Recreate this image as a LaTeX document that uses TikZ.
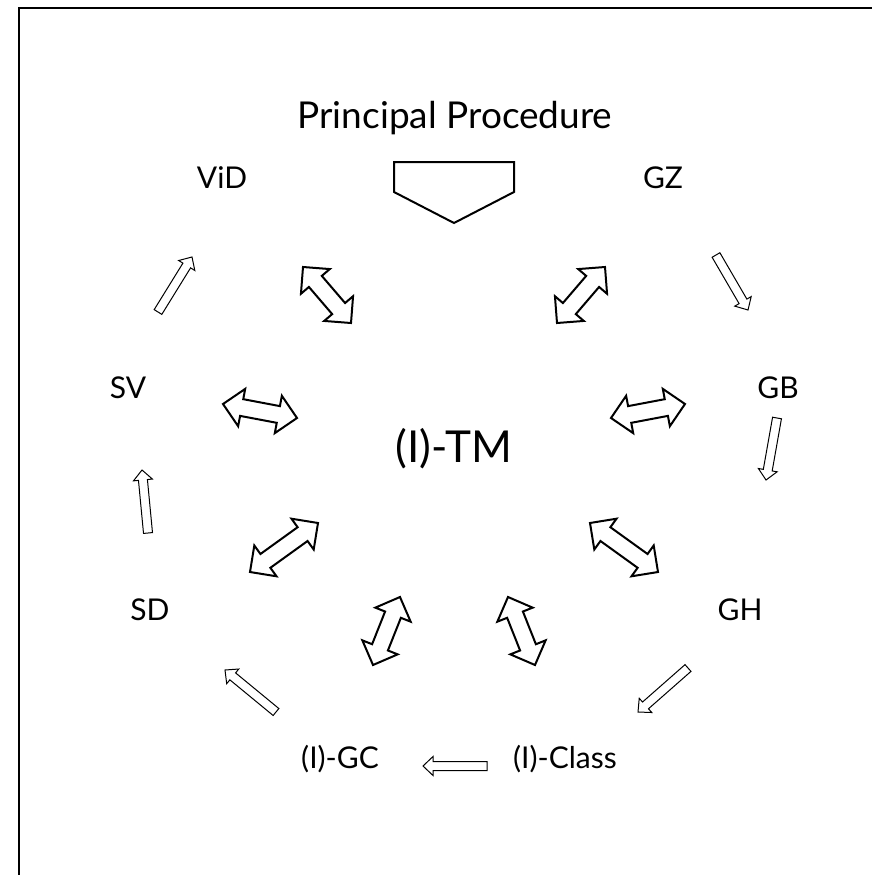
\documentclass[tikz,border=0pt]{standalone}
\usepackage{fontspec}
\setmainfont{Lato}
\usetikzlibrary{calc}

\tikzset{
  lbl/.style={font=\fontsize{30}{35}\selectfont, anchor=base, inner sep=0pt},
  title/.style={font=\fontsize{37}{42}\selectfont, anchor=base, inner sep=0pt},
  centre/.style={font=\fontsize{44}{50}\selectfont, anchor=base, inner sep=0pt},
  frame/.style={draw, line width=2pt},
  plate/.style={draw, line width=2pt, line join=miter},
  twoway/.style={draw, line width=2pt, line join=miter, fill=white},
  oneway/.style={draw, line width=1pt, line join=miter, fill=white},
}

% hollow block arrow with a head at both ends: #1 and #2 are the two tips
\newcommand\twowayarrow[2]{%
  \draw[twoway] (#1)
    -- ($(#1)!19pt!(#2)!19pt!90:(#2)$)
    -- ($(#1)!19pt!(#2)!8.5pt!90:(#2)$)
    -- ($(#2)!19pt!(#1)!8.5pt!-90:(#1)$)
    -- ($(#2)!19pt!(#1)!19pt!-90:(#1)$)
    -- (#2)
    -- ($(#2)!19pt!(#1)!19pt!90:(#1)$)
    -- ($(#2)!19pt!(#1)!8.5pt!90:(#1)$)
    -- ($(#1)!19pt!(#2)!8.5pt!-90:(#2)$)
    -- ($(#1)!19pt!(#2)!19pt!-90:(#2)$)
    -- cycle;}

% thin hollow block arrow: #1 is the tail, #2 the tip
\newcommand\onewayarrow[2]{%
  \draw[oneway] ($(#1)!4.5pt!90:(#2)$)
    -- ($(#2)!10pt!(#1)!4.5pt!-90:(#1)$)
    -- ($(#2)!10pt!(#1)!9.5pt!-90:(#1)$)
    -- (#2)
    -- ($(#2)!10pt!(#1)!9.5pt!90:(#1)$)
    -- ($(#2)!10pt!(#1)!4.5pt!90:(#1)$)
    -- ($(#1)!4.5pt!-90:(#2)$)
    -- cycle;}

\begin{document}
\begin{tikzpicture}[x=1pt,y=-1pt]
  \useasboundingbox (0,0) rectangle (872,875);
  \fill[white] (0,0) rectangle (872,875);
  \draw[frame] (19,8) rectangle (900,900);

  % labels
  \node[title]  (pp)  at (455,128) {Principal Procedure};
  \node[centre] (tm)  at (454,462) {(I)-TM};
  \node[lbl]    (vid) at (222,188) {ViD};
  \node[lbl]    (gz)  at (663,188) {GZ};
  \node[lbl]    (sv)  at (128,398) {SV};
  \node[lbl]    (gb)  at (778,398) {GB};
  \node[lbl]    (sd)  at (150,620) {SD};
  \node[lbl]    (gh)  at (740,620) {GH};
  \node[lbl]    (gc)  at (340,768) {(I)-GC};
  \node[lbl]    (cls) at (565,768) {(I)-Class};

  % pentagon under the title
  \draw[plate] (394,162) -- (514,162) -- (514,192) -- (454,223) -- (394,192) -- cycle;

  % two-way arrows around the centre
  \coordinate (d1a) at (303,267); \coordinate (d1b) at (351,323);
  \coordinate (d2a) at (605,267); \coordinate (d2b) at (557,323);
  \coordinate (d3a) at (223,404); \coordinate (d3b) at (297,418);
  \coordinate (d4a) at (685,404); \coordinate (d4b) at (611,418);
  \coordinate (d5a) at (250,572); \coordinate (d5b) at (318,523);
  \coordinate (d6a) at (658,572); \coordinate (d6b) at (590,523);
  \coordinate (d7a) at (400,597); \coordinate (d7b) at (373,665);
  \coordinate (d8a) at (508,597); \coordinate (d8b) at (535,665);
  \twowayarrow{d1a}{d1b}
  \twowayarrow{d2a}{d2b}
  \twowayarrow{d3a}{d3b}
  \twowayarrow{d4a}{d4b}
  \twowayarrow{d5a}{d5b}
  \twowayarrow{d6a}{d6b}
  \twowayarrow{d7a}{d7b}
  \twowayarrow{d8a}{d8b}

  % one-way arrows along the ring
  \coordinate (s1t) at (158,312); \coordinate (s1h) at (192,257);
  \coordinate (s2t) at (716,255); \coordinate (s2h) at (748,310);
  \coordinate (s3t) at (777,418); \coordinate (s3h) at (766,480);
  \coordinate (s4t) at (688,668); \coordinate (s4h) at (638,712);
  \coordinate (s5t) at (487,766); \coordinate (s5h) at (423,766);
  \coordinate (s6t) at (276,712); \coordinate (s6h) at (225,670);
  \coordinate (s7t) at (148,533); \coordinate (s7h) at (142,470);
  \onewayarrow{s1t}{s1h}
  \onewayarrow{s2t}{s2h}
  \onewayarrow{s3t}{s3h}
  \onewayarrow{s4t}{s4h}
  \onewayarrow{s5t}{s5h}
  \onewayarrow{s6t}{s6h}
  \onewayarrow{s7t}{s7h}
\end{tikzpicture}
\end{document}
